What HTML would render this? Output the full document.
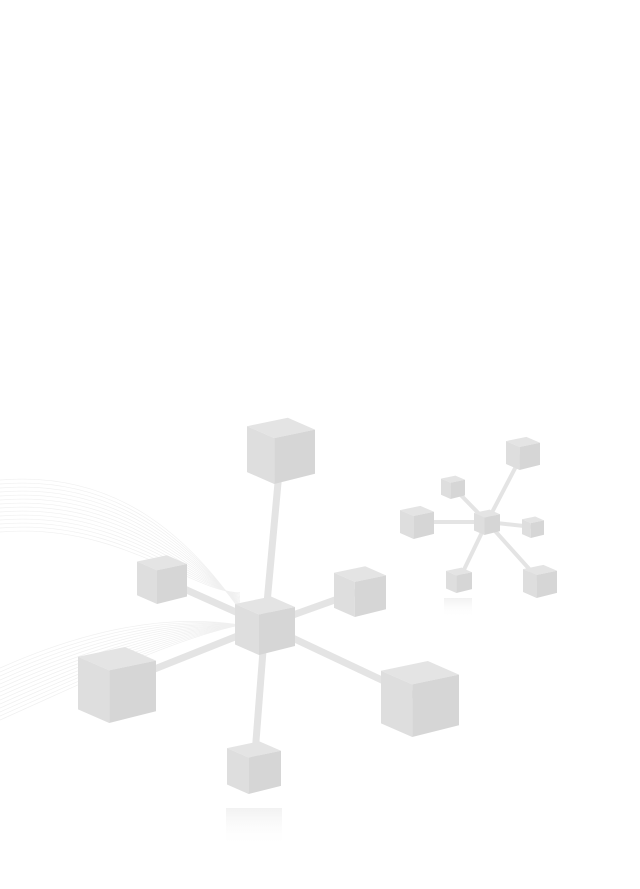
<!DOCTYPE html>
<html><head><meta charset="utf-8">
<style>
html,body{margin:0;padding:0;background:#fff;}
svg{display:block;}
</style></head>
<body>
<svg id="art" width="640" height="889" viewBox="0 0 640 889" xmlns="http://www.w3.org/2000/svg">
<defs>
<linearGradient id="fade" x1="0" y1="0" x2="0" y2="1">
<stop offset="0" stop-color="#ececec" stop-opacity="0.7"/>
<stop offset="1" stop-color="#ffffff" stop-opacity="0"/>
</linearGradient>
</defs>
<g id="waves"></g>
<g id="rods"></g>
<g id="cubes"></g>
</svg>
<script>
// big molecule
const bigCenter = [265, 625];
const bigCubeX = [281, 162, 360, 117, 420, 254];
const bigCubeY = [450, 579, 591, 684, 698, 767];
const bigCubeS = [34, 25, 26, 39, 39, 27];
// small molecule
const smallCenter = [487, 522];
const smallCubeX = [523, 453, 417, 533, 459, 540];
const smallCubeY = [453, 487, 522, 527, 580, 581];
const smallCubeS = [17, 12, 17, 11, 13, 17];

const NS = "http://www.w3.org/2000/svg";
const rods = document.getElementById('rods');
const cubes = document.getElementById('cubes');
const waves = document.getElementById('waves');

for (let i = 0; i < 14; i++) {
  const p = document.createElementNS(NS, 'path');
  const o = i * 4;
  p.setAttribute('d', `M0 ${480 + o} C120 ${470 + o}, 190 ${540 + o}, 240 ${610 - o / 3} M0 ${720 - o} C90 ${680 - o}, 170 ${640 - o / 2}, 240 ${625}`);
  p.setAttribute('stroke', '#f0f0f0');
  p.setAttribute('fill', 'none');
  p.setAttribute('stroke-width', '0.7');
  
  
  waves.appendChild(p);
}

function rod(cx, cy, x, y, w) {
  const l = document.createElementNS(NS, 'line');
  l.setAttribute('x1', cx); l.setAttribute('y1', cy);
  l.setAttribute('x2', x); l.setAttribute('y2', y);
  l.setAttribute('stroke', '#e4e4e4');
  l.setAttribute('stroke-width', w);
  l.setAttribute('stroke-linecap', 'round');
  
  
  rods.appendChild(l);
}

function cube(x, y, s, name) {
  const g = document.createElementNS(NS, 'g');
  
  
  const faces = [
    [`${x - s},${y - s * 0.7} ${x + s * 0.2},${y - s * 0.95} ${x + s},${y - s * 0.6} ${x - s * 0.2},${y - s * 0.35}`, '#e4e4e4'],
    [`${x - s},${y - s * 0.7} ${x - s * 0.2},${y - s * 0.35} ${x - s * 0.2},${y + s} ${x - s},${y + s * 0.65}`, '#dedede'],
    [`${x - s * 0.2},${y - s * 0.35} ${x + s},${y - s * 0.6} ${x + s},${y + s * 0.7} ${x - s * 0.2},${y + s}`, '#d6d6d6']
  ];
  faces.forEach(f => {
    const p = document.createElementNS(NS, 'polygon');
    p.setAttribute('points', f[0]);
    p.setAttribute('fill', f[1]);
    
    
    g.appendChild(p);
  });
  cubes.appendChild(g);
}

bigCubeX.forEach((x, i) => rod(bigCenter[0], bigCenter[1], x, bigCubeY[i], 7));
smallCubeX.forEach((x, i) => rod(smallCenter[0], smallCenter[1], x, smallCubeY[i], 4));

// reflections
[[254, 808, 28], [458, 598, 14]].forEach(r => {
  const e = document.createElementNS(NS, 'rect');
  e.setAttribute('x', r[0] - r[2]); e.setAttribute('y', r[1]);
  e.setAttribute('width', r[2] * 2); e.setAttribute('height', r[2] * 1.4);
  e.setAttribute('fill', 'url(#fade)');
  
  
  cubes.appendChild(e);
});

cube(bigCenter[0], bigCenter[1], 30, 'big-center-cube');
bigCubeX.forEach((x, i) => cube(x, bigCubeY[i], bigCubeS[i], 'big-outer-cube'));
cube(smallCenter[0], smallCenter[1], 13, 'small-center-cube');
smallCubeX.forEach((x, i) => cube(x, smallCubeY[i], smallCubeS[i], 'small-outer-cube'));
</script>
</body></html>
